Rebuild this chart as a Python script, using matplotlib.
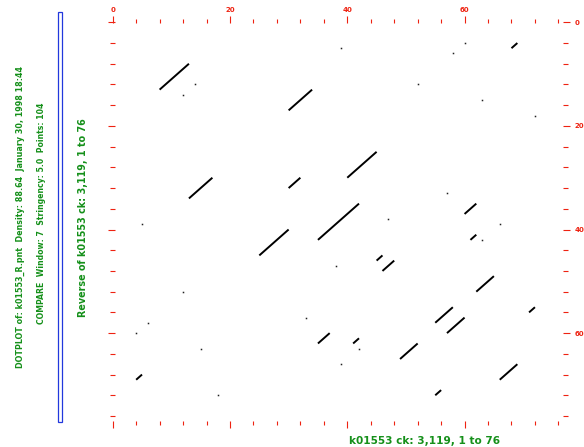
import matplotlib
matplotlib.use("Agg")
import matplotlib.pyplot as plt
from matplotlib.ticker import MultipleLocator
from matplotlib.patches import Rectangle

# diagonal runs (start -> end), sequence position vs reverse position
seg_x0 = [8, 30, 13, 30, 40, 35, 25, 35, 4, 68, 60, 61, 45, 46, 62, 71, 55, 57, 41, 49, 66, 55]
seg_y0 = [13, 17, 34, 32, 30, 42, 45, 62, 69, 5, 37, 42, 46, 48, 52, 56, 58, 60, 62, 65, 69, 72]
seg_x1 = [13, 34, 17, 32, 45, 42, 30, 37, 5, 69, 62, 62, 46, 48, 65, 72, 58, 60, 42, 52, 69, 56]
seg_y1 = [8, 13, 30, 30, 25, 35, 40, 60, 68, 4, 35, 41, 45, 46, 49, 55, 55, 57, 61, 62, 66, 71]

# isolated hits
dot_x = [39, 60, 58, 14, 12, 52, 63, 72, 57, 47, 5, 66, 63, 38, 12, 33, 6, 4, 15, 42, 39, 18]
dot_y = [5, 4, 6, 12, 14, 12, 15, 18, 33, 38, 39, 39, 42, 47, 52, 57, 58, 60, 63, 63, 66, 72]

seq_len = 76
title1 = "DOTPLOT of: k01553_R.pnt  Density: 88.64  January 30, 1998 18:44"
title2 = "COMPARE  Window: 7  Stringency: 5.0  Points: 104"
ylab = "Reverse of k01553 ck: 3,119, 1 to 76"
xlab = "k01553 ck: 3,119, 1 to 76"

red = '#ee2211'
green = '#15901a'
W, H = 584, 447

fig = plt.figure(figsize=(W / 100, H / 100), dpi=100)
fig.patch.set_facecolor('white')
ax = fig.add_axes([112.7 / W, 1 - 416 / H, 445.7 / W, 393.7 / H])

for i in range(len(seg_x0)):
    ax.plot([seg_x0[i], seg_x1[i]], [seg_y0[i], seg_y1[i]], color='black', lw=1.4,
            solid_capstyle='butt')
ax.plot(dot_x, dot_y, 's', color='#222222', ms=1.1, mew=0)

ax.set_xlim(0, seq_len)
ax.set_ylim(seq_len, 0)

for s in ax.spines.values():
    s.set_visible(False)
ax.spines['left'].set_position(('outward', -1.7))
ax.spines['top'].set_position(('outward', -0.7))
ax.spines['right'].set_position(('outward', 3.5))
ax.spines['bottom'].set_position(('outward', 3.4))

for axis in (ax.xaxis, ax.yaxis):
    axis.set_major_locator(MultipleLocator(20))
    axis.set_minor_locator(MultipleLocator(4))

ax.tick_params(axis='x', which='both', top=True, bottom=True, labeltop=True,
               labelbottom=False, direction='out', color=red, labelcolor=red, width=0.8)
ax.tick_params(axis='x', which='major', length=4.8, pad=2.4)
ax.tick_params(axis='x', which='minor', length=2.9)
ax.tick_params(axis='y', which='both', left=True, right=True, labelleft=False,
               labelright=True, direction='out', color=red, labelcolor=red, width=0.8)
ax.tick_params(axis='y', which='major', length=5.0, pad=3.2)
ax.tick_params(axis='y', which='minor', length=3.3)
for lab in ax.get_xticklabels() + ax.get_yticklabels():
    lab.set_fontsize(5)
    lab.set_fontweight('bold')

# header lines and axis titles
fig.text(20.3 / W, 1 - 217.5 / H, title1, rotation=90, ha='center', va='center',
         rotation_mode='anchor', color=green, fontsize=6.4, fontweight='bold',
         fontstretch='condensed')
fig.text(41.3 / W, 1 - 213 / H, title2, rotation=90, ha='center', va='center',
         rotation_mode='anchor', color=green, fontsize=6.2, fontweight='bold',
         fontstretch='condensed')
fig.text(82.8 / W, 1 - 217.5 / H, ylab, rotation=90, ha='center', va='center',
         rotation_mode='anchor', color=green, fontsize=7.7, fontweight='bold',
         fontstretch='condensed')
fig.text(425 / W, 1 - 440.5 / H, xlab, ha='center', va='center',
         color=green, fontsize=7.6, fontweight='bold')

# narrow frame next to the header
fig.patches.append(Rectangle((57.5 / W, 1 - 421.5 / H), 4 / W, 409.5 / H,
                             transform=fig.transFigure, fill=False,
                             edgecolor='#2238dd', lw=0.9))

fig.savefig('out.png', dpi=100)
